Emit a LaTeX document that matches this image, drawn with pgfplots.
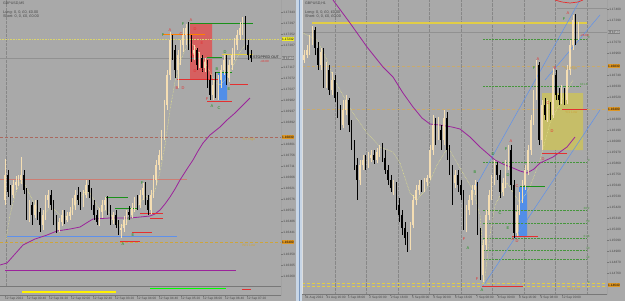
\documentclass[border=0pt]{standalone}
\usepackage{fontspec}
\setmainfont{Liberation Sans}
\usepackage{pgfplots}
\usepackage{pgfplotstable}
\pgfplotsset{compat=1.18}
\definecolor{bg}{RGB}{169,169,169}
\definecolor{bull}{RGB}{245,222,179}
\definecolor{bear}{RGB}{0,0,0}
\definecolor{ma}{RGB}{155,35,155}
\definecolor{mayel}{RGB}{228,228,140}
\definecolor{salmon}{RGB}{205,125,115}
\definecolor{mred}{RGB}{228,48,48}
\definecolor{mgreen}{RGB}{25,145,25}
\definecolor{mblue}{RGB}{95,145,235}
\definecolor{gold}{RGB}{205,165,60}
\definecolor{goldl}{RGB}{200,170,110}
\definecolor{brownd}{RGB}{170,105,95}
\definecolor{rectred}{RGB}{214,96,96}
\definecolor{rectblue}{RGB}{82,142,232}
\definecolor{rectyel}{RGB}{198,190,104}
\definecolor{ylw}{RGB}{225,205,70}
\definecolor{ydot}{RGB}{218,212,110}
\definecolor{axc}{RGB}{120,120,120}
\definecolor{txt}{RGB}{70,70,70}
\definecolor{gridc}{RGB}{135,135,135}
\definecolor{fibg}{RGB}{70,150,60}
\definecolor{divc}{RGB}{200,214,230}
\definecolor{divl}{RGB}{120,150,190}
\definecolor{bidc}{RGB}{145,145,145}
\definecolor{boxor}{RGB}{222,150,35}
\definecolor{boxyl}{RGB}{240,235,40}
\definecolor{dtxt}{RGB}{35,35,35}

\pgfplotstableread{
x o c h l
5 200 175 159 205
13.1 195 185 180 198
15.8 185 182 176 190
18.5 182 180 175 186
21.2 180 175 157 184
29.3 215 205 200 222
34.7 215 205 200 218
42.8 225 215 210 230
45.5 215 200 195 220
48.2 200 195 190 208
59 230 222 218 232
61.7 222 215 210 226
67.1 220 216 212 222
69.8 216 212 207 220
72.5 212 205 198 215
75.2 205 195 190 210
83.3 205 195 190 207
86 195 185 180 198
99.5 222 212 208 226
102.2 212 205 200 218
104.9 205 200 197 210
113 220 215 212 224
121.1 230 228 224 238
123.8 228 220 216 232
126.5 220 212 210 225
131.9 215 208 203 218
134.6 208 200 197 212
140 205 195 190 208
142.7 195 188 183 200
150.8 210 195 190 214
153.5 195 180 175 198
156.2 180 165 160 185
158.9 165 155 150 170
161.6 155 135 130 160
164.3 135 105 100 140
167 105 75 70 110
169.7 75 40 32 80
177.8 70 55 50 88
180.5 55 45 40 65
183.2 45 35 28 52
185.9 35 28 24 45
194 55 50 45 60
199.4 65 58 52 68
204.8 68 62 58 72
212.9 95 85 80 100
218.3 92 80 75 100
221 80 70 65 88
223.7 70 60 55 75
229.1 78 65 60 82
231.8 65 55 48 70
234.5 55 45 38 60
237.2 45 35 30 50
239.9 35 28 22 40
242.6 28 20 17 35
}\LBull
\pgfplotstableread{
x o c h l
7.7 175 192 170 197
10.4 192 195 185 205
23.9 175 190 170 194
26.6 190 215 188 220
32 205 215 202 225
37.4 205 212 200 220
40.1 212 225 208 232
50.9 195 205 190 210
53.6 205 220 200 225
56.3 220 230 215 233
64.4 215 220 210 224
77.9 195 200 187 205
80.6 200 205 192 210
88.7 185 192 180 198
91.4 192 205 188 210
94.1 205 215 200 220
96.8 215 222 210 225
107.6 200 210 196 215
110.3 210 220 205 225
115.7 215 225 210 228
118.4 225 230 220 235
129.2 212 215 206 220
137.3 200 205 195 210
145.4 188 200 182 205
148.1 200 210 195 215
172.4 40 50 35 60
175.1 50 70 45 78
188.6 28 45 22 50
191.3 45 55 35 62
196.7 50 65 48 70
202.1 58 68 55 72
207.5 62 80 60 88
210.2 80 95 75 100
215.6 85 92 72 98
226.4 60 78 55 85
245.3 20 45 16 50
248 45 55 40 60
250.7 55 58 50 62
}\LBear
\pgfplotstableread{
x o c h l
304 60 55 50 63
306.8 55 50 45 58
309.6 50 40 35 55
312.4 40 30 26 45
320.8 65 52 48 70
326.4 80 70 62 88
332 90 80 72 95
343.2 125 110 100 128
346 110 100 95 115
360 180 165 160 185
362.8 165 160 155 170
368.4 165 158 152 168
371.2 158 155 150 162
376.8 160 152 148 163
379.6 152 150 145 157
393.6 188 185 180 195
410.4 245 225 222 250
413.2 225 200 195 228
416 200 190 185 205
418.8 190 185 180 195
424.4 188 182 178 192
427.2 182 178 175 186
430 178 150 145 180
432.8 150 125 115 155
438.4 135 130 117 140
444 140 118 110 145
455.2 183 175 170 188
466.4 225 210 205 232
469.2 210 200 195 215
472 200 190 185 205
474.8 190 185 180 195
483.2 275 245 240 282
486 245 215 210 250
488.8 215 195 190 220
491.6 195 180 175 200
494.4 180 165 160 185
502.8 192 183 178 196
505.6 183 165 160 188
508.4 165 150 145 170
516.8 233 212 205 236
519.6 212 198 192 215
522.4 198 185 180 203
525.2 185 170 165 190
528 170 150 145 175
530.8 150 120 115 155
533.6 120 95 90 125
536.4 95 65 60 100
542 140 105 100 150
547.6 115 108 100 122
553.2 115 75 68 118
561.6 100 92 85 104
567.2 100 70 65 104
570 70 45 40 75
572.8 45 20 15 50
578.4 35 30 22 40
}\RBull
\pgfplotstableread{
x o c h l
315.2 30 48 27 55
318 48 65 42 70
323.6 52 80 48 88
329.2 70 90 65 95
334.8 80 98 75 102
337.6 98 110 92 118
340.4 110 125 105 130
348.8 100 125 98 132
351.6 125 145 120 150
354.4 145 165 140 170
357.2 165 180 158 200
365.6 160 165 155 170
374 155 160 150 164
382.4 150 158 143 162
385.2 158 170 150 174
388 170 180 165 185
390.8 180 188 175 192
396.4 185 205 182 210
399.2 205 215 198 222
402 215 228 210 235
404.8 228 238 222 245
407.6 238 245 232 252
421.6 185 188 180 192
435.6 125 135 118 145
441.2 130 140 125 150
446.8 118 150 112 160
449.6 150 170 145 175
452.4 170 183 165 205
458 175 185 170 192
460.8 185 195 180 200
463.6 195 225 190 230
477.6 185 230 182 235
480.4 230 275 228 280
497.2 165 175 162 180
500 175 192 170 198
511.2 150 185 145 190
514 185 233 180 238
539.2 65 140 62 145
544.8 105 115 98 120
550.4 108 115 102 120
556 75 95 70 100
558.8 95 100 88 105
564.4 92 100 88 105
575.6 20 35 14 45
}\RBear

\newcommand{\candles}[3]{%
\addplot[draw=none, mark=none, forget plot, error bars/.cd, y dir=both, y explicit, error mark=none,
  error bar style={line width=0.4bp, draw=#2, solid}]
  table[x=x, y expr={(\thisrow{h}+\thisrow{l})/2}, y error expr={(\thisrow{l}-\thisrow{h})/2}] {#1};
\addplot[draw=none, mark=none, forget plot, error bars/.cd, y dir=both, y explicit, error mark=none,
  error bar style={line width=1.5bp, draw=#3, solid}]
  table[x=x, y expr={(\thisrow{o}+\thisrow{c})/2}, y error expr={abs(\thisrow{c}-\thisrow{o})/2}] {#1};
}
\newcommand{\lbl}[4]{\node[font=\fontsize{4}{4}\selectfont, text=#1, inner sep=0pt] at (axis cs:#2,#3) {#4};}
\newcommand{\pbox}[4]{\node[anchor=west, fill=#1, text=#2, inner sep=0.5bp, minimum height=4.6bp, font=\fontsize{3.2}{3.6}\selectfont] at (axis cs:#3) {#4};}

\pgfplotsset{
  mt/.style={
    scale only axis, y dir=reverse, clip mode=individual,
    axis background/.style={fill=bg},
    axis line style={draw=none},
    tick align=outside, major tick length=1.5bp,
    tick style={draw=axc, line width=0.3bp},
    ticklabel style={font=\fontsize{3.2}{3.6}\selectfont, text=txt, inner sep=0.6bp},
    ytick pos=right, yticklabel pos=right,
    yticklabel style={anchor=west},
    xtick pos=left, xticklabel pos=left,
    xticklabel style={anchor=north west, xshift=-0.6bp},
  }
}

\begin{document}
\begin{tikzpicture}
\fill[bg] (0,0) rectangle (625bp,-301bp);
\fill[divc] (296bp,0) rectangle (302bp,-301bp);
\draw[divl, line width=0.8bp] (299bp,0) -- (299bp,-301bp);

% ---------------- LEFT PANEL (M5) ----------------
\begin{axis}[mt, at={(0bp,0bp)}, anchor=north west, width=281bp, height=295bp,
  xmin=0, xmax=281, ymin=0, ymax=295,
  xtick={5,27,49,71,93,115,137,159,181,203,225,247},
  xticklabels={12 Sep 2022,12 Sep 00:40,12 Sep 01:20,12 Sep 02:00,12 Sep 02:40,12 Sep 03:20,12 Sep 04:00,12 Sep 04:40,12 Sep 05:20,12 Sep 06:00,12 Sep 06:40,12 Sep 07:20},
  ytick={12,23,34,45,67,78,89,100,111,122,144,155,166,177,188,199,210,221,232,254,265,276},
  yticklabels={1.17343,1.17297,1.17252,1.17207,1.17117,1.17072,1.17027,1.16982,1.16937,1.16892,1.16801,1.16756,1.16711,1.16666,1.16621,1.16576,1.16531,1.16486,1.16441,1.16350,1.16305,1.16260},
]
\addplot[gridc, densely dotted, line width=0.3bp] coordinates {(6,0) (6,286)};
% zones
\addplot[fill=rectred, draw=none] coordinates {(190,23) (212,23) (212,79) (190,79) (190,23)};
\addplot[fill=rectblue, draw=none] coordinates {(218,73) (227,73) (227,100) (218,100) (218,73)};
% horizontal levels
\addplot[ydot, dash pattern=on 0.8bp off 0.8bp, line width=0.5bp] coordinates {(0,39) (281,39)};
\addplot[bidc, line width=0.4bp] coordinates {(0,58) (281,58)};
\addplot[brownd, dash pattern=on 3bp off 2bp, line width=0.7bp] coordinates {(0,137) (281,137)};
\addplot[gold, dash pattern=on 3bp off 2bp, line width=0.7bp] coordinates {(0,242) (281,242)};
\addplot[salmon, line width=0.6bp] coordinates {(0,179) (187,179)};
\addplot[mblue, line width=0.6bp] coordinates {(7,236) (177,236)};
\addplot[ma, line width=0.8bp] coordinates {(5,270) (236,270)};
% moving averages
\addplot[mayel, dash pattern=on 0.6bp off 0.9bp, line width=0.5bp] coordinates {
(6,240) (10,215) (15,195) (20,182) (25,185) (30,195) (35,205) (40,213) (45,213) (50,208) (55,210) (60,215) (65,217) (70,214) (75,205) (80,198) (85,192) (90,193) (95,202) (100,210) (105,210) (110,213) (115,220) (120,226) (125,225) (130,218) (135,210) (140,203) (145,196) (150,198) (155,190) (160,172) (165,145) (170,110) (175,82) (180,62) (185,50) (190,42) (195,47) (200,55) (205,62) (210,72) (215,82) (220,85) (225,80) (230,72) (235,62) (240,52) (245,45) (250,50)};
\addplot[ma, line width=0.8bp] coordinates {
(0,265) (7,263) (15,254) (23,245) (35,239) (47,235) (57,231) (70,229) (80,227) (88,222) (93,219) (110,218) (130,218) (150,216) (155,214) (160,210) (165,204) (170,197) (175,189) (180,180) (187,169) (193,160) (198,151) (203,143) (210,135) (215,131) (220,127) (227,120) (235,113) (242,106) (250,98)};
% pattern lines
\addplot[mgreen, line width=0.7bp] coordinates {(190,23) (253,23)};
\addplot[mgreen, line width=0.7bp] coordinates {(207,57) (222,57)};
\addplot[mgreen, line width=0.7bp] coordinates {(215,72) (232,72)};
\addplot[mgreen, line width=0.7bp] coordinates {(105,197) (128,197)};
\addplot[mgreen, line width=0.7bp] coordinates {(115,208) (138,208)};
\addplot[orange, line width=0.7bp] coordinates {(163,34) (205,34)};
\addplot[ylw, line width=0.7bp] coordinates {(222,54) (253,54)};
\addplot[mred, line width=0.7bp] coordinates {(177,79) (218,79)};
\addplot[mred, line width=0.7bp] coordinates {(207,101) (232,101)};
\addplot[mred, line width=0.7bp] coordinates {(230,84) (248,84)};
\addplot[mred, line width=0.7bp] coordinates {(120,241) (140,241)};
\addplot[mred, line width=0.7bp] coordinates {(132,232) (152,232)};
\addplot[mred, line width=0.7bp] coordinates {(140,213) (163,213)};
\addplot[mred, line width=0.7bp] coordinates {(150,218) (163,218)};
% candles
\candles{\LBull}{bull}{bull}
\candles{\LBear}{bear}{bear}
% letters
\lbl{mgreen}{163}{35}{F}
\lbl{mred}{170}{30}{A}
\lbl{mred}{181}{34}{C}
\lbl{mgreen}{183}{24}{F}
\lbl{mred}{191}{20}{A}
\lbl{mred}{195}{29}{D}
\lbl{mred}{193}{55}{B}
\lbl{mred}{202}{43}{E}
\lbl{mred}{202}{70}{C}
\lbl{mred}{195}{71}{D}
\lbl{mred}{177}{88}{B}
\lbl{mred}{183}{88}{D}
\lbl{mgreen}{225}{52}{D}
\lbl{mgreen}{217}{69}{B}
\lbl{mgreen}{229}{89}{E}
\lbl{mred}{207}{99}{F}
\lbl{mgreen}{212}{106}{A}
\lbl{mgreen}{219}{108}{C}
\lbl{mgreen}{142}{183}{F}
\lbl{mgreen}{123}{244}{A}
\lbl{mgreen}{129}{219}{C}
\lbl{mgreen}{133}{235}{E}
\node[anchor=west, inner sep=0pt, font=\fontsize{3.6}{4}\selectfont, text=dtxt] at (axis cs:253,57) {STOPPED OUT};
\node[anchor=west, inner sep=0pt, font=\fontsize{3}{3.4}\selectfont, text=mred] at (axis cs:260,61.5) {-43.00};
\node[anchor=west, inner sep=0pt, font=\fontsize{3.4}{4}\selectfont, text=gold] at (axis cs:242,140) {Y/1 High};
\node[anchor=west, inner sep=0pt, font=\fontsize{3.4}{4}\selectfont, text=gold] at (axis cs:242,245.5) {W/1 Low};
\node[anchor=north west, inner sep=0pt, font=\fontsize{3.6}{4}\selectfont, text=txt] at (axis cs:3,1.5) {GBPUSD,M5};
\node[anchor=north west, inner sep=0pt, align=left, font=\fontsize{3.8}{4.2}\selectfont, text=txt] at (axis cs:3,10.5) {Long: 0, 0, £0, £0.00\\Short: 0, 0, £0, £0.00};
% sub window
\addplot[axc, line width=0.4bp] coordinates {(0,286) (281,286)};
\addplot[yellow, line width=1.3bp] coordinates {(22,292) (116,292)};
\addplot[green, line width=1.3bp] coordinates {(150,288.5) (226,288.5)};
\addplot[mred, line width=1.1bp] coordinates {(242,289.5) (251,289.5)};
% frame
\addplot[axc, line width=0.4bp] coordinates {(281,0) (281,295) (0,295)};
% price boxes
\pbox{boxyl}{black}{281.5,39}{1.17232}
\pbox{gray}{white}{281.5,58}{1.17160}
\pbox{boxor}{black}{281.5,137}{1.16830}
\pbox{boxor}{black}{281.5,242}{1.16400}
\end{axis}

% ---------------- RIGHT PANEL (H1) ----------------
\begin{axis}[mt, at={(302bp,0bp)}, anchor=north west, width=305bp, height=294bp,
  xmin=302, xmax=607, ymin=0, ymax=294,
  xtick={305,326.4,347.8,369.2,390.6,412,433.4,454.8,476.2,497.6,519,540.4,561.8},
  xticklabels={31 Aug 2022,31 Aug 16:00,1 Sep 08:00,2 Sep 00:00,2 Sep 16:00,5 Sep 08:00,6 Sep 00:00,6 Sep 16:00,7 Sep 08:00,8 Sep 00:00,8 Sep 16:00,9 Sep 08:00,12 Sep 00:00},
  ytick={9,20,42,53,75,86,97,119,130,141,152,163,174,185,196,207,218,229,240,251,262,273},
  yticklabels={1.17400,1.17290,1.17070,1.16960,1.16740,1.16630,1.16520,1.16300,1.16190,1.16080,1.15970,1.15860,1.15750,1.15640,1.15530,1.15420,1.15310,1.15200,1.15090,1.14980,1.14870,1.14760},
]
% grid
\addplot[gridc, densely dotted, line width=0.3bp] coordinates {(335,0) (335,294)};
\addplot[gridc, densely dotted, line width=0.3bp] coordinates {(366.5,0) (366.5,294)};
\addplot[gridc, densely dotted, line width=0.3bp] coordinates {(398,0) (398,294)};
\addplot[gridc, densely dotted, line width=0.3bp] coordinates {(429.5,0) (429.5,294)};
\addplot[gridc, densely dotted, line width=0.3bp] coordinates {(461,0) (461,294)};
\addplot[gridc, densely dotted, line width=0.3bp] coordinates {(492.5,0) (492.5,294)};
\addplot[gridc, densely dotted, line width=0.3bp] coordinates {(524,0) (524,294)};
\addplot[gridc, densely dotted, line width=0.3bp] coordinates {(555.5,0) (555.5,294)};
\addplot[gridc, densely dotted, line width=0.3bp] coordinates {(587,0) (587,294)};
% zones
\addplot[fill=rectyel, draw=none] coordinates {(542,93) (583,93) (583,150) (542,150) (542,93)};
\addplot[fill=rectblue, draw=none] coordinates {(519,187) (527,187) (527,236) (519,236) (519,187)};
% levels
\addplot[bidc, line width=0.4bp] coordinates {(302,32) (607,32)};
\addplot[bidc, line width=0.4bp] coordinates {(557,8) (607,8)};
\addplot[ylw, line width=1.2bp] coordinates {(312,23) (587,23)};
\addplot[goldl, dash pattern=on 3bp off 2bp, line width=0.7bp] coordinates {(302,66) (607,66)};
\addplot[goldl, dash pattern=on 3bp off 2bp, line width=0.7bp] coordinates {(302,109) (607,109)};
\addplot[ylw, dash pattern=on 3bp off 2bp, line width=0.7bp] coordinates {(302,283) (607,283)};
\addplot[ylw, dash pattern=on 3bp off 2bp, line width=0.7bp] coordinates {(302,286) (607,286)};
% fib levels
\addplot[fibg, densely dotted, line width=0.45bp] coordinates {(483,39) (587,39)};
\addplot[fibg, densely dotted, line width=0.45bp] coordinates {(483,86) (580,86)};
\addplot[fibg, densely dotted, line width=0.45bp] coordinates {(483,162) (587,162)};
\addplot[fibg, densely dotted, line width=0.45bp] coordinates {(483,210) (587,210)};
\addplot[fibg, densely dotted, line width=0.45bp] coordinates {(483,223) (587,223)};
\addplot[fibg, densely dotted, line width=0.45bp] coordinates {(483,238) (587,238)};
\addplot[fibg, densely dotted, line width=0.45bp] coordinates {(483,250) (587,250)};
\addplot[fibg, densely dotted, line width=0.45bp] coordinates {(483,259) (587,259)};
% channel
\addplot[mblue, line width=0.5bp] coordinates {(483,286) (600,110)};
\addplot[mblue, line width=0.5bp] coordinates {(545,80) (600,15)};
\addplot[mblue, line width=0.5bp] coordinates {(472,193) (580,0)};
% moving averages
\addplot[mayel, dash pattern=on 0.6bp off 0.9bp, line width=0.5bp] coordinates {
(303,33) (317,40) (327,60) (333,77) (340,90) (353,113) (367,133) (380,147) (393,152) (400,163) (410,193) (417,200) (427,188) (437,165) (448,147) (460,168) (473,190) (480,215) (483,250) (484,285) (490,235) (495,205) (507,183) (520,203) (530,187) (540,160) (550,123) (560,103) (573,80)};
\addplot[ma, line width=0.8bp] coordinates {
(333,0) (350,23) (367,47) (383,67) (393,77) (403,93) (413,107) (422,118) (430,124) (440,125) (452,127) (460,129) (470,137) (480,147) (495,160) (505,165) (513,168) (520,171) (527,173) (534,169) (540,163) (553,157) (567,147) (575,137)};
\addplot[mred, line width=0.7bp] coordinates {(555,0) (562,2) (570,3) (578,2) (583,0)};
% pattern lines
\addplot[mgreen, line width=0.7bp] coordinates {(520,186) (545,186)};
\addplot[mred, line width=0.7bp] coordinates {(512,236) (538,236)};
\addplot[mred, line width=0.7bp] coordinates {(482,286) (523,286)};
\addplot[mred, line width=0.7bp] coordinates {(542,153) (567,153)};
\addplot[mred, line width=0.7bp] coordinates {(562,109) (587,109)};
% candles
\candles{\RBull}{bull}{bull}
\candles{\RBear}{bear}{bear}
% letters
\lbl{mgreen}{482}{290}{A}
\lbl{mred}{477}{279}{F}
\lbl{mgreen}{468}{248}{A}
\lbl{mred}{464}{239}{F}
\lbl{mgreen}{475}{172}{B}
\lbl{mgreen}{493}{154}{D}
\lbl{mgreen}{506}{149}{F}
\lbl{mgreen}{508}{175}{D}
\lbl{mgreen}{500}{213}{C}
\lbl{mgreen}{508}{228}{E}
\lbl{mred}{517}{186}{C}
\lbl{mred}{513}{239}{A}
\lbl{mred}{517}{241}{D}
\lbl{mred}{543}{159}{D}
\lbl{mred}{511}{141}{A}
\lbl{mred}{538}{59}{A}
\lbl{mgreen}{534}{68}{F}
\lbl{mred}{555}{68}{B}
\lbl{mred}{548}{103}{C}
\lbl{mred}{552}{131}{D}
\lbl{mred}{568}{13}{A}
\lbl{mgreen}{564}{19}{F}
% fib labels
\node[anchor=south east, inner sep=0.3bp, font=\fontsize{3}{3.4}\selectfont, text=fibg] at (axis cs:590,39) {0};
\node[anchor=south east, inner sep=0.3bp, font=\fontsize{3}{3.4}\selectfont, text=fibg] at (axis cs:588,86) {161.8};
\node[anchor=south east, inner sep=0.3bp, font=\fontsize{3}{3.4}\selectfont, text=fibg] at (axis cs:590,162) {0};
\node[anchor=south east, inner sep=0.3bp, font=\fontsize{3}{3.4}\selectfont, text=fibg] at (axis cs:590,210) {38.2};
\node[anchor=south east, inner sep=0.3bp, font=\fontsize{3}{3.4}\selectfont, text=fibg] at (axis cs:590,223) {50};
\node[anchor=south east, inner sep=0.3bp, font=\fontsize{3}{3.4}\selectfont, text=fibg] at (axis cs:590,238) {61.8};
\node[anchor=south east, inner sep=0.3bp, font=\fontsize{3}{3.4}\selectfont, text=fibg] at (axis cs:590,250) {70};
\node[anchor=south east, inner sep=0.3bp, font=\fontsize{3}{3.4}\selectfont, text=fibg] at (axis cs:590,259) {79};
\node[anchor=south east, inner sep=0.3bp, font=\fontsize{3}{3.4}\selectfont, text=fibg] at (axis cs:590,284) {0};
\node[anchor=west, inner sep=0pt, font=\fontsize{3}{3.4}\selectfont, text=mred] at (axis cs:580,35) {-26.63};
\node[anchor=west, inner sep=0pt, font=\fontsize{3.4}{4}\selectfont, text=gold] at (axis cs:564,68.5) {Y/1 High};
\node[anchor=west, inner sep=0pt, font=\fontsize{3.4}{4}\selectfont, text=gold] at (axis cs:565,112) {Y/1 Low};
\node[anchor=west, inner sep=0pt, font=\fontsize{3.4}{4}\selectfont, text=gold] at (axis cs:567,289) {W/1 Low};
\node[anchor=north west, inner sep=0pt, font=\fontsize{3.6}{4}\selectfont, text=txt] at (axis cs:305,1.5) {GBPUSD,H1};
\node[anchor=north west, inner sep=0pt, align=left, font=\fontsize{3.8}{4.2}\selectfont, text=txt] at (axis cs:305,10.5) {Long: 0, 0, £0, £0.00\\Short: 0, 0, £0, £0.00};
% frame
\addplot[white!60!bg, line width=0.6bp] coordinates {(302.5,0) (302.5,294)};
\addplot[axc, line width=0.4bp] coordinates {(607,0) (607,294) (302,294)};
% price boxes
\pbox{gray}{white}{607.5,32}{1.17160}
\pbox{boxor}{black}{607.5,66}{1.16830}
\pbox{boxor}{black}{607.5,109}{1.16400}
\pbox{boxor}{black}{607.5,285}{1.14640}
\end{axis}
\pgfresetboundingbox
\useasboundingbox (0,0) rectangle (625bp,-301bp);
\end{tikzpicture}
\end{document}
